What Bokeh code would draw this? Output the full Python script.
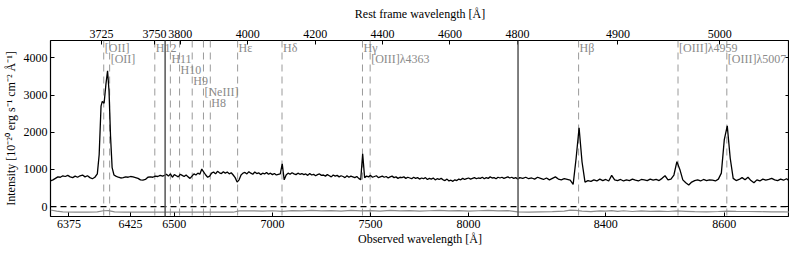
import numpy as np
from bokeh.plotting import figure
from bokeh.models import (Range1d, LinearAxis, FixedTicker, Span, ColumnDataSource)
from bokeh.core.properties import value
from bokeh.embed import file_html
from bokeh.resources import INLINE

# ---------------- data ----------------
ONE_PLUS_Z = 1.7185

seg1_wave = [6360, 6362, 6364, 6366, 6368, 6370, 6372, 6374, 6376, 6378, 6380, 6382,
             6384, 6386, 6388, 6390, 6392, 6394, 6396, 6398, 6399.5, 6401, 6402, 6403.5,
             6405, 6406.3, 6407.5, 6408.7, 6410, 6411.5, 6413, 6415, 6417, 6419, 6421,
             6423, 6425, 6427, 6429, 6431, 6433, 6435, 6437, 6439, 6441, 6443, 6445,
             6447, 6449, 6451, 6453]
seg1_flux = [690, 720, 760, 800, 790, 830, 810, 840, 800, 780, 820, 790,
             830, 850, 800, 830, 780, 750, 790, 880, 1400, 2700, 2830, 2780,
             3300, 3650, 3100, 1900, 1050, 850, 820, 790, 770, 780, 800,
             790, 810, 800, 780, 760, 720, 715, 730, 790, 800, 790, 820,
             810, 840, 820, 850]

seg2_wave = list(range(6460, 8251, 10))
seg2_flux = [870, 820, 880, 790, 860, 830, 800, 870, 840, 810,
             850, 800, 760, 820, 880, 850, 900, 870, 1010, 930,
             850, 790, 820, 900, 930, 880, 950, 910, 890, 940,
             900, 930, 880, 910, 850, 780, 660, 720, 850, 900,
             920, 880, 940, 900, 870, 930, 890, 910, 860, 900,
             880, 920, 870, 900, 860, 890, 850, 870, 880, 1150,
             720, 850, 900, 870, 910, 880, 860, 900, 870, 890,
             860, 880, 840, 890, 850, 870, 830, 860, 880, 840,
             850, 820, 860, 830, 800, 850, 820, 840, 800, 830,
             810, 780, 830, 790, 820, 800, 780, 810, 760, 720,
             1420, 780, 820, 800, 840, 790, 810, 830, 780, 800,
             820, 790, 810, 770, 800, 820, 780, 800, 760, 790,
             780, 800, 760, 790, 770, 750, 790, 760, 780, 740,
             770, 750, 780, 730, 760, 740, 770, 720, 750, 730,
             760, 720, 700, 740, 690, 710, 680, 720, 700, 740,
             720, 760, 730, 750, 770, 740, 760, 780, 750, 770,
             760, 790, 750, 780, 760, 800, 770, 780, 750, 790,
             770, 790, 760, 780, 800, 770, 790, 760, 780, 740]

seg3_wave = list(range(8255, 8711, 5))
seg3_flux = [780, 760, 790, 750, 770, 740, 790, 760, 730, 770,
             720, 760, 800, 740, 720, 750, 730, 710, 600, 1300,
             2120, 1200, 660, 700, 680, 720, 690, 740, 700, 730,
             690, 840, 720, 700, 730, 690, 720, 700, 740, 710,
             690, 730, 720, 700, 740, 710, 730, 700, 760, 830,
             720, 740, 850, 1210, 1000, 720, 640, 580, 660, 700,
             720, 690, 730, 700, 720, 710, 690, 740, 900, 1800,
             2170, 1300, 760, 700, 730, 780, 720, 790, 700, 640,
             720, 690, 740, 710, 730, 760, 720, 700, 740, 710,
             750, 690]

err_wave = [6360, 6365, 6370, 6380, 6390, 6398, 6403, 6407, 6412, 6420, 6430, 6440, 6453,
            6500, 6550, 6600, 6650, 6700, 6750, 6800, 6830, 6900, 6950, 7000, 7050, 7100,
            7150, 7200, 7250, 7300, 7350, 7400, 7450, 7500, 7550, 7600, 7650, 7700, 7750,
            7800, 7850, 7900, 7950, 8000, 8050, 8100, 8150, 8200, 8250,
            8270, 8290, 8310, 8330, 8340, 8350, 8360, 8375, 8390, 8400, 8410, 8420, 8430,
            8445, 8460, 8475, 8490, 8505, 8520, 8535, 8550, 8570, 8590, 8605, 8620, 8640,
            8660, 8680, 8700, 8710]
err_flux = [-90, -120, -140, -150, -150, -140, -110, -105, -140, -150, -150, -150, -145,
            -150, -145, -150, -150, -145, -150, -150, -115, -110, -120, -110, -125, -105,
            -115, -100, -115, -105, -120, -100, -115, -105, -120, -100, -115, -105, -120,
            -110, -100, -115, -105, -120, -110, -100, -115, -105, -140,
            -145, -140, -135, -120, -95, -100, -120, -135, -115, -120, -105, -125, -110,
            -130, -115, -125, -120, -130, -115, -125, -135, -140, -130, -120, -125, -130,
            -135, -140, -140, -145]

line_names = ["[OII]", "[OII]", "H12", "H11", "H10", "H9", "[NeIII]", "H8",
              "Hε", "Hδ", "Hγ", "[OIII]λ4363", "Hβ", "[OIII]λ4959", "[OIII]λ5007"]
line_rest = [3726.03, 3728.82, 3750.15, 3770.63, 3797.90, 3835.38, 3868.75, 3889.05,
             3970.07, 4101.73, 4340.46, 4363.21, 4861.33, 4958.91, 5006.84]

obs_ticks = [6375, 6425, 6500, 7000, 7500, 8000, 8400, 8600]
rest_ticks = [3725, 3750, 3800, 4000, 4200, 4400, 4600, 4800, 4900, 5000]
y_ticks = [0, 1000, 2000, 3000, 4000]

# ---------------- layout ----------------
BREAKS_OBS = [6360.0, 6453.0, 8252.0, 8710.0]
PANEL_W = [114.0, 351.0, 270.0]
BREAKS_DISP = np.concatenate([[0.0], np.cumsum(PANEL_W)])
LABEL_ROW = [0, 1, 0, 1, 2, 3, 4, 5, 0, 0, 0, 1, 0, 0, 1]
ROW_STEP = 11
Y_START, Y_END = -265, 4465
FONT = "Liberation Serif"


def to_disp(w):
    return np.interp(np.asarray(w, dtype=float), BREAKS_OBS, BREAKS_DISP)


def tick_map(vals):
    pos = [round(float(to_disp(v)), 4) for v in vals]
    return pos, {p_: str(v) for p_, v in zip(pos, vals)}


p = figure(width=789, height=248, x_range=Range1d(0, BREAKS_DISP[-1]),
           y_range=Range1d(Y_START, Y_END), output_backend="svg",
           toolbar_location=None, min_border_left=50, min_border_right=0,
           min_border_top=40, min_border_bottom=32)
p.grid.grid_line_color = None
p.outline_line_color = "black"
p.outline_line_width = 1.2
p.background_fill_color = "white"
p.border_fill_color = "white"


def style_axis(ax, label_standoff=3, title_standoff=3):
    ax.axis_line_color = None
    ax.major_tick_in = 4
    ax.major_tick_out = 0
    ax.major_tick_line_color = "black"
    ax.minor_tick_line_color = None
    ax.major_label_text_font = FONT
    ax.major_label_text_font_size = "12px"
    ax.major_label_text_color = "black"
    ax.axis_label_text_font = FONT
    ax.axis_label_text_font_size = "12px"
    ax.axis_label_text_font_style = "normal"
    ax.axis_label_text_color = "black"
    ax.major_label_standoff = label_standoff
    ax.axis_label_standoff = title_standoff


obs_pos, obs_over = tick_map(obs_ticks)
bx = p.xaxis[0]
bx.ticker = FixedTicker(ticks=obs_pos)
bx.major_label_overrides = obs_over
bx.axis_label = "Observed wavelength [Å]"
style_axis(bx, 3, 1)

rest_pos, _ = tick_map([r * ONE_PLUS_Z for r in rest_ticks])
rest_over = {k: str(r) for k, r in zip(rest_pos, rest_ticks)}
top = LinearAxis(ticker=FixedTicker(ticks=rest_pos), major_label_overrides=rest_over,
                 axis_label="Rest frame wavelength [Å]")
style_axis(top, 3, 6)
p.add_layout(top, "above")

ly = p.yaxis[0]
ly.ticker = FixedTicker(ticks=y_ticks)
ly.axis_label = "Intensity [10⁻²⁰ erg s⁻¹ cm⁻² Å⁻¹]"
style_axis(ly, 3, 3)

ry = LinearAxis(ticker=FixedTicker(ticks=y_ticks),
                major_label_overrides={t: "" for t in y_ticks})
style_axis(ry, 0, 0)
p.add_layout(ry, "right")

# identification lines
line_obs = [r * ONE_PLUS_Z for r in line_rest]
line_disp = to_disp(line_obs)
for xd in line_disp:
    p.add_layout(Span(location=float(xd), dimension="height", line_color="#9a9a9a",
                      line_width=1, line_dash="7 5", level="underlay"))

# zero line
p.add_layout(Span(location=0, dimension="width", line_color="black", line_width=1.3,
                  line_dash="6 4", level="underlay"))

# error spectrum
p.line(to_disp(err_wave), err_flux, line_color="#8c8c8c", line_width=1.2)

# spectrum
wave = seg1_wave + seg2_wave + seg3_wave
flux = seg1_flux + seg2_flux + seg3_flux
p.line(to_disp(wave), flux, line_color="black", line_width=1.3)

# labels
lab = ColumnDataSource(dict(x=line_disp, y=[Y_END] * len(line_names), text=line_names,
                            yoff=[7 + ROW_STEP * r for r in LABEL_ROW]))
p.text(x="x", y="y", text="text", source=lab, x_offset=1, y_offset="yoff",
       text_font=value(FONT), text_font_size=value("12px"), text_color="#8a8a8a",
       text_align="left", text_baseline="middle")

# panel separators
for b in BREAKS_DISP[1:-1]:
    p.add_layout(Span(location=float(b), dimension="height", line_color="#555555",
                      line_width=1.5))

open("out.html", "w").write(file_html(p, INLINE))
